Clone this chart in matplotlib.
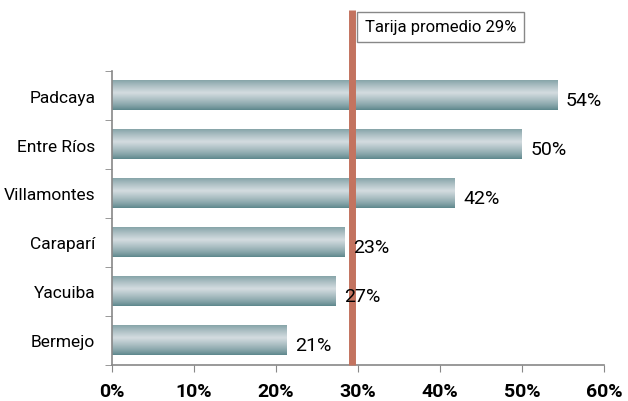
import matplotlib.pyplot as plt
import numpy as np

# data (bottom to top, as drawn)
municipios = ["Bermejo", "Yacuiba", "Caraparí", "Villamontes", "Entre Ríos", "Padcaya"]
valores = [21.3, 27.3, 28.4, 41.8, 50.0, 54.3]
etiquetas = ["21%", "27%", "23%", "42%", "50%", "54%"]
promedio = 29.3
promedio_txt = "Tarija promedio 29%"
x_ticks = [0, 10, 20, 30, 40, 50, 60]

plt.rcParams["font.family"] = ["Roboto", "DejaVu Sans"]

fig = plt.figure(figsize=(6.28, 4.02), dpi=100)
ax = fig.add_axes([112 / 628, 1 - 366 / 402, 492 / 628, 294 / 402])

# vertical gradient for the bars: dark edges, light centre
dark = np.array([92, 134, 139]) / 255
light = np.array([212, 220, 224]) / 255
t = np.linspace(0, 1, 64)
w = np.clip(1 - np.abs(t - 0.42) / 0.58, 0, 1) ** 0.8
grad = dark[None, :] * (1 - w[:, None]) + light[None, :] * w[:, None]
grad = grad[:, None, :]

y = np.arange(len(municipios))
h = 0.61
for yi, v in zip(y, valores):
    ax.imshow(grad, extent=(0, v, yi - h / 2, yi + h / 2), aspect="auto",
              interpolation="bilinear", zorder=2)

for yi, v, lab in zip(y, valores, etiquetas):
    ax.text(v + 1.0, yi - 0.1, lab, va="center", ha="left", fontsize=14,
            zorder=4)

ax.set_xlim(0, 60)
ax.set_ylim(-0.5, len(municipios) - 0.5)

# promedio line, reaching above the plot area
ax.plot([promedio, promedio], [-0.5, 6.75], color="#c3735f", lw=5,
        clip_on=False, zorder=3, solid_capstyle="butt")
ax.text(promedio + 1.5, 6.4, promedio_txt, fontsize=12, va="center",
        ha="left", zorder=4,
        bbox=dict(boxstyle="square,pad=0.45", fc="white", ec="#888888", lw=1))

ax.set_yticks(y)
ax.set_yticklabels(municipios, fontsize=12.5)
ax.set_yticks(np.arange(-0.5, len(municipios), 1), minor=True)
ax.tick_params(axis="y", which="major", length=0, pad=12)
ax.tick_params(axis="y", which="minor", length=5, color="#888888", direction="out")

ax.set_xticks(x_ticks)
ax.set_xticklabels([f"{v}%" for v in x_ticks], fontsize=14, fontweight="bold")
ax.tick_params(axis="x", length=5, color="#888888", pad=7)

for s in ["top", "right"]:
    ax.spines[s].set_visible(False)
for s in ["left", "bottom"]:
    ax.spines[s].set_color("#888888")
    ax.spines[s].set_linewidth(1.2)

fig.savefig("out.png", dpi=100)
